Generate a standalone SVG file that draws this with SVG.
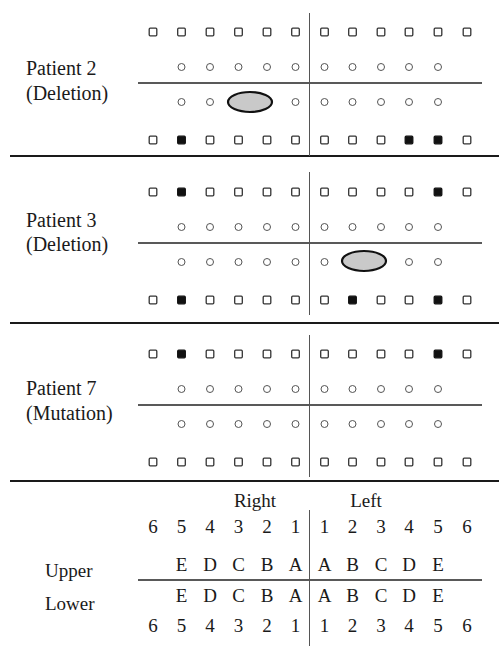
<svg xmlns="http://www.w3.org/2000/svg" width="499" height="646" viewBox="0 0 499 646">
  <style>
    .lbl { font-family: "Liberation Serif", "Times New Roman", serif; font-size: 19px; fill: #1a1a1a; }
    .pt { font-size: 20px; }
    .mid { text-anchor: middle; }
    .sep { stroke: #1a1a1a; stroke-width: 1.8; }
    .hl { stroke: #222; stroke-width: 1.3; }
    .vl { stroke: #555; stroke-width: 1; }
    .sq { fill: #fff; stroke: #333; stroke-width: 1.3; }
    .sqf { fill: #111; stroke: #111; stroke-width: 1.3; }
    .ci { fill: none; stroke: #555; stroke-width: 1; }
    .lesion { fill: #c9c9c9; stroke: #111; stroke-width: 2.2; }
  </style>
  <defs>
    <rect id="sq" class="sq" x="-3.8" y="-3.8" width="7.6" height="7.6" rx="1"/>
    <rect id="sqf" class="sqf" x="-3.8" y="-3.8" width="7.6" height="7.6" rx="1"/>
    <circle id="ci" class="ci" r="3.5"/>
  </defs>
  <rect width="499" height="646" fill="#fff"/>

  <!-- dividers and midlines -->
  <g id="connectors">
    <line class="sep" x1="10" y1="156" x2="499" y2="156"/>
    <line class="sep" x1="10" y1="323" x2="499" y2="323"/>
    <line class="sep" x1="10" y1="481" x2="499" y2="481"/>
    <line class="hl" x1="138" y1="83" x2="482" y2="83"/>
    <line class="hl" x1="138" y1="243" x2="482" y2="243"/>
    <line class="hl" x1="138" y1="405" x2="482" y2="405"/>
    <line class="hl" x1="138" y1="580" x2="482" y2="580"/>
    <line class="vl" x1="309.5" y1="13" x2="309.5" y2="156"/>
    <line class="vl" x1="309.5" y1="172" x2="309.5" y2="315"/>
    <line class="vl" x1="309.5" y1="335" x2="309.5" y2="477"/>
    <line class="vl" x1="309.5" y1="510" x2="309.5" y2="646"/>
  </g>

  <!-- Patient 2 -->
  <g id="patient2">
    <text class="lbl pt" x="26" y="75">Patient 2</text>
    <text class="lbl pt" x="26" y="100">(Deletion)</text>
    <use href="#sq" x="153" y="32"/><use href="#sq" x="181.5" y="32"/><use href="#sq" x="210" y="32"/>
    <use href="#sq" x="238.5" y="32"/><use href="#sq" x="267" y="32"/><use href="#sq" x="295.5" y="32"/>
    <use href="#sq" x="324.5" y="32"/><use href="#sq" x="352.5" y="32"/><use href="#sq" x="381" y="32"/>
    <use href="#sq" x="409" y="32"/><use href="#sq" x="438" y="32"/><use href="#sq" x="467" y="32"/>
    <use href="#ci" x="181.5" y="67"/><use href="#ci" x="210" y="67"/><use href="#ci" x="238.5" y="67"/>
    <use href="#ci" x="267" y="67"/><use href="#ci" x="295.5" y="67"/><use href="#ci" x="324.5" y="67"/>
    <use href="#ci" x="352.5" y="67"/><use href="#ci" x="381" y="67"/><use href="#ci" x="409" y="67"/>
    <use href="#ci" x="438" y="67"/>
    <use href="#ci" x="181.5" y="102"/><use href="#ci" x="210" y="102"/>
    <ellipse class="lesion" cx="250" cy="102" rx="22" ry="10"/>
    <use href="#ci" x="295.5" y="102"/><use href="#ci" x="324.5" y="102"/>
    <use href="#ci" x="352.5" y="102"/><use href="#ci" x="381" y="102"/><use href="#ci" x="409" y="102"/>
    <use href="#ci" x="438" y="102"/>
    <use href="#sq" x="153" y="140"/><use href="#sqf" x="181.5" y="140"/><use href="#sq" x="210" y="140"/>
    <use href="#sq" x="238.5" y="140"/><use href="#sq" x="267" y="140"/><use href="#sq" x="295.5" y="140"/>
    <use href="#sq" x="324.5" y="140"/><use href="#sq" x="352.5" y="140"/><use href="#sq" x="381" y="140"/>
    <use href="#sqf" x="409" y="140"/><use href="#sqf" x="438" y="140"/><use href="#sq" x="467" y="140"/>
  </g>

  <!-- Patient 3 -->
  <g id="patient3">
    <text class="lbl pt" x="26" y="227">Patient 3</text>
    <text class="lbl pt" x="26" y="251">(Deletion)</text>
    <use href="#sq" x="153" y="192"/><use href="#sqf" x="181.5" y="192"/><use href="#sq" x="210" y="192"/>
    <use href="#sq" x="238.5" y="192"/><use href="#sq" x="267" y="192"/><use href="#sq" x="295.5" y="192"/>
    <use href="#sq" x="324.5" y="192"/><use href="#sq" x="352.5" y="192"/><use href="#sq" x="381" y="192"/>
    <use href="#sq" x="409" y="192"/><use href="#sqf" x="438" y="192"/><use href="#sq" x="467" y="192"/>
    <use href="#ci" x="181.5" y="227"/><use href="#ci" x="210" y="227"/><use href="#ci" x="238.5" y="227"/>
    <use href="#ci" x="267" y="227"/><use href="#ci" x="295.5" y="227"/><use href="#ci" x="324.5" y="227"/>
    <use href="#ci" x="352.5" y="227"/><use href="#ci" x="381" y="227"/><use href="#ci" x="409" y="227"/>
    <use href="#ci" x="438" y="227"/>
    <use href="#ci" x="181.5" y="262"/><use href="#ci" x="210" y="262"/><use href="#ci" x="238.5" y="262"/>
    <use href="#ci" x="267" y="262"/><use href="#ci" x="295.5" y="262"/><use href="#ci" x="324.5" y="262"/>
    <ellipse class="lesion" cx="364" cy="261" rx="22" ry="10"/>
    <use href="#ci" x="409" y="262"/><use href="#ci" x="438" y="262"/>
    <use href="#sq" x="153" y="300"/><use href="#sqf" x="181.5" y="300"/><use href="#sq" x="210" y="300"/>
    <use href="#sq" x="238.5" y="300"/><use href="#sq" x="267" y="300"/><use href="#sq" x="295.5" y="300"/>
    <use href="#sq" x="324.5" y="300"/><use href="#sqf" x="352.5" y="300"/><use href="#sq" x="381" y="300"/>
    <use href="#sq" x="409" y="300"/><use href="#sqf" x="438" y="300"/><use href="#sq" x="467" y="300"/>
  </g>

  <!-- Patient 7 -->
  <g id="patient7">
    <text class="lbl pt" x="26" y="395">Patient 7</text>
    <text class="lbl pt" x="26" y="420">(Mutation)</text>
    <use href="#sq" x="153" y="354"/><use href="#sqf" x="181.5" y="354"/><use href="#sq" x="210" y="354"/>
    <use href="#sq" x="238.5" y="354"/><use href="#sq" x="267" y="354"/><use href="#sq" x="295.5" y="354"/>
    <use href="#sq" x="324.5" y="354"/><use href="#sq" x="352.5" y="354"/><use href="#sq" x="381" y="354"/>
    <use href="#sq" x="409" y="354"/><use href="#sqf" x="438" y="354"/><use href="#sq" x="467" y="354"/>
    <use href="#ci" x="181.5" y="389"/><use href="#ci" x="210" y="389"/><use href="#ci" x="238.5" y="389"/>
    <use href="#ci" x="267" y="389"/><use href="#ci" x="295.5" y="389"/><use href="#ci" x="324.5" y="389"/>
    <use href="#ci" x="352.5" y="389"/><use href="#ci" x="381" y="389"/><use href="#ci" x="409" y="389"/>
    <use href="#ci" x="438" y="389"/>
    <use href="#ci" x="181.5" y="424"/><use href="#ci" x="210" y="424"/><use href="#ci" x="238.5" y="424"/>
    <use href="#ci" x="267" y="424"/><use href="#ci" x="295.5" y="424"/><use href="#ci" x="324.5" y="424"/>
    <use href="#ci" x="352.5" y="424"/><use href="#ci" x="381" y="424"/><use href="#ci" x="409" y="424"/>
    <use href="#ci" x="438" y="424"/>
    <use href="#sq" x="153" y="462"/><use href="#sq" x="181.5" y="462"/><use href="#sq" x="210" y="462"/>
    <use href="#sq" x="238.5" y="462"/><use href="#sq" x="267" y="462"/><use href="#sq" x="295.5" y="462"/>
    <use href="#sq" x="324.5" y="462"/><use href="#sq" x="352.5" y="462"/><use href="#sq" x="381" y="462"/>
    <use href="#sq" x="409" y="462"/><use href="#sq" x="438" y="462"/><use href="#sq" x="467" y="462"/>
  </g>

  <!-- Key: tooth numbering and labels -->
  <g id="key" class="lbl">
    <text class="mid" x="255" y="507">Right</text>
    <text class="mid" x="366" y="507">Left</text>
    <g class="mid">
      <text x="153" y="533">6</text><text x="181.5" y="533">5</text><text x="210" y="533">4</text>
      <text x="238.5" y="533">3</text><text x="267" y="533">2</text><text x="295.5" y="533">1</text>
      <text x="324.5" y="533">1</text><text x="352.5" y="533">2</text><text x="381" y="533">3</text>
      <text x="409" y="533">4</text><text x="438" y="533">5</text><text x="467" y="533">6</text>
      <text x="181.5" y="571">E</text><text x="210" y="571">D</text><text x="238.5" y="571">C</text>
      <text x="267" y="571">B</text><text x="295.5" y="571">A</text>
      <text x="324.5" y="571">A</text><text x="352.5" y="571">B</text><text x="381" y="571">C</text>
      <text x="409" y="571">D</text><text x="438" y="571">E</text>
      <text x="181.5" y="602">E</text><text x="210" y="602">D</text><text x="238.5" y="602">C</text>
      <text x="267" y="602">B</text><text x="295.5" y="602">A</text>
      <text x="324.5" y="602">A</text><text x="352.5" y="602">B</text><text x="381" y="602">C</text>
      <text x="409" y="602">D</text><text x="438" y="602">E</text>
      <text x="153" y="632">6</text><text x="181.5" y="632">5</text><text x="210" y="632">4</text>
      <text x="238.5" y="632">3</text><text x="267" y="632">2</text><text x="295.5" y="632">1</text>
      <text x="324.5" y="632">1</text><text x="352.5" y="632">2</text><text x="381" y="632">3</text>
      <text x="409" y="632">4</text><text x="438" y="632">5</text><text x="467" y="632">6</text>
    </g>
    <text x="45" y="577">Upper</text>
    <text x="45" y="610">Lower</text>
  </g>
</svg>
